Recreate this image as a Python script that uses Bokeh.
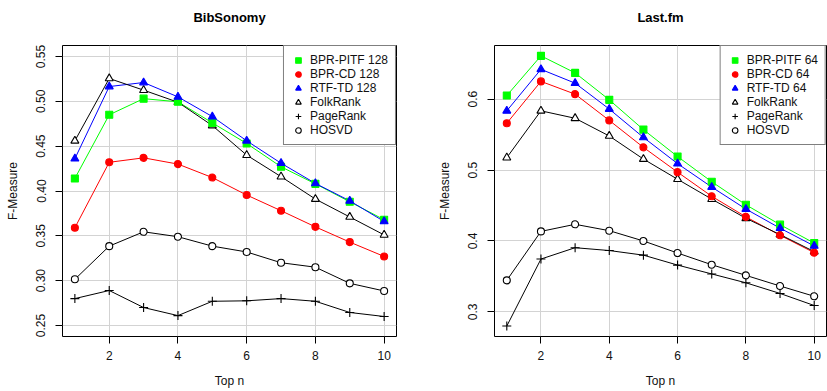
from bokeh.plotting import figure
from bokeh.layouts import row
from bokeh.models import Range1d, FixedTicker, PrintfTickFormatter, Legend, LegendItem
from bokeh.embed import file_html
from bokeh.resources import INLINE

top_n = [1, 2, 3, 4, 5, 6, 7, 8, 9, 10]

# BibSonomy
bib_bpr_pitf = [0.414, 0.485, 0.503, 0.4995, 0.476, 0.453, 0.427, 0.408, 0.388, 0.368]
bib_bpr_cd = [0.359, 0.432, 0.437, 0.430, 0.415, 0.3955, 0.378, 0.360, 0.343, 0.327]
bib_rtf_td = [0.436, 0.5165, 0.521, 0.505, 0.483, 0.456, 0.431, 0.4085, 0.389, 0.366]
bib_folkrank = [0.456, 0.5255, 0.5125, 0.499, 0.473, 0.440, 0.416, 0.391, 0.371, 0.351]
bib_pagerank = [0.280, 0.289, 0.270, 0.261, 0.277, 0.2775, 0.280, 0.277, 0.2645, 0.260]
bib_hosvd = [0.3015, 0.3385, 0.3545, 0.349, 0.3385, 0.332, 0.320, 0.315, 0.297, 0.2885]

# Last.fm
lfm_bpr_pitf = [0.605, 0.661, 0.637, 0.599, 0.557, 0.519, 0.4835, 0.451, 0.423, 0.397]
lfm_bpr_cd = [0.566, 0.625, 0.607, 0.570, 0.532, 0.497, 0.463, 0.434, 0.408, 0.3835]
lfm_rtf_td = [0.5835, 0.642, 0.6225, 0.586, 0.546, 0.509, 0.476, 0.445, 0.418, 0.393]
lfm_folkrank = [0.5175, 0.5835, 0.573, 0.548, 0.5155, 0.487, 0.459, 0.432, 0.409, 0.385]
lfm_pagerank = [0.280, 0.3745, 0.3905, 0.3865, 0.380, 0.366, 0.3535, 0.341, 0.326, 0.309]
lfm_hosvd = [0.3445, 0.4135, 0.4235, 0.4145, 0.400, 0.383, 0.3665, 0.3515, 0.3365, 0.322]

bib_names = ["BPR-PITF 128", "BPR-CD 128", "RTF-TD 128", "FolkRank", "PageRank", "HOSVD"]
lfm_names = ["BPR-PITF 64", "BPR-CD 64", "RTF-TD 64", "FolkRank", "PageRank", "HOSVD"]

bib_yticks = [0.25, 0.30, 0.35, 0.40, 0.45, 0.50, 0.55]
lfm_yticks = [0.3, 0.4, 0.5, 0.6]
xticks = [2, 4, 6, 8, 10]

FONT = "Liberation Sans"
HEIGHT = 391
TOP, BOTTOM = 45, 55

# style per series: (line color, marker, fill, marker size)
STYLES = [
    ("#00ff00", "square", "#00ff00", 7),
    ("#ff0000", "circle", "#ff0000", 7),
    ("#0000ff", "triangle", "#0000ff", 8),
    ("#000000", "triangle", "white", 8),
    ("#000000", "cross", None, 9),
    ("#000000", "circle", "white", 7),
]


def make_plot(title, series, names, yrange, yticks, yfmt, width, bl, br):
    p = figure(width=width, height=HEIGHT, output_backend="svg", toolbar_location=None,
               x_range=Range1d(0.64, 10.36), y_range=Range1d(*yrange),
               min_border_left=bl, min_border_right=br, min_border_top=TOP,
               min_border_bottom=BOTTOM)
    xa = p.below[0]
    ya = p.left[0]
    p.title.text = title
    p.title.align = "center"
    p.title.text_font = FONT
    p.title.text_font_size = "13px"
    p.title.text_font_style = "bold"
    p.title.text_color = "#000000"
    p.title.standoff = 14
    p.title.padding = dict(left=0, right=0, top=0, bottom=14)
    p.outline_line_color = "black"
    p.outline_line_width = 1
    p.outline_line_alpha = 1
    p.background_fill_color = "white"
    p.border_fill_color = "white"

    for ax in (xa, ya):
        ax.axis_line_color = None
        ax.major_tick_in = 0
        ax.major_tick_out = 7
        ax.minor_tick_line_color = None
        ax.major_tick_line_color = "black"
        ax.major_label_text_font = FONT
        ax.major_label_text_font_size = "12px"
        ax.major_label_text_color = "#111111"
        ax.axis_label_text_font = FONT
        ax.axis_label_text_font_size = "12px"
        ax.axis_label_text_font_style = "normal"
        ax.axis_label_text_color = "#111111"
    xa.ticker = FixedTicker(ticks=xticks)
    ya.ticker = FixedTicker(ticks=yticks)
    ya.formatter = PrintfTickFormatter(format=yfmt)
    ya.major_label_orientation = "vertical"
    xa.axis_label = "Top n"
    ya.axis_label = "F-Measure"
    xa.major_label_standoff = 7
    xa.axis_label_standoff = 11
    ya.major_label_standoff = 10
    ya.axis_label_standoff = 14

    p.xgrid.ticker = FixedTicker(ticks=xticks)
    p.ygrid.ticker = FixedTicker(ticks=yticks)
    p.grid.grid_line_color = "#d3d3d3"
    p.grid.grid_line_width = 1

    # lines first
    for ys, (col, mk, fill, sz) in zip(series, STYLES):
        p.line(top_n, ys, line_color=col, line_width=1)

    scat = [None] * len(series)
    order = [3, 4, 5, 0, 1, 2]
    for i in order:
        ys = series[i]
        col, mk, fill, sz = STYLES[i]
        r = p.scatter(top_n, ys, marker=mk, size=sz, line_color=col, line_width=1.1,
                      fill_color=fill)
        scat[i] = r

    items = [LegendItem(label=n, renderers=[r]) for n, r in zip(names, scat)]
    leg = Legend(items=items, location="top_right")
    leg.margin = 0
    leg.padding = 7
    leg.spacing = 0
    leg.label_height = 14
    leg.glyph_height = 14
    leg.glyph_width = 14
    leg.label_standoff = 5
    leg.label_text_font = FONT
    leg.label_text_font_size = "12px"
    leg.label_text_color = "#111111"
    leg.border_line_color = "black"
    leg.border_line_width = 1
    leg.background_fill_color = "white"
    leg.background_fill_alpha = 1
    p.add_layout(leg, "center")
    return p


p1 = make_plot("BibSonomy",
               [bib_bpr_pitf, bib_bpr_cd, bib_rtf_td, bib_folkrank, bib_pagerank, bib_hosvd],
               bib_names, (0.2377, 0.5623), bib_yticks, "%.2f", 413, 62, 17)
p2 = make_plot("Last.fm",
               [lfm_bpr_pitf, lfm_bpr_cd, lfm_rtf_td, lfm_folkrank, lfm_pagerank, lfm_hosvd],
               lfm_names, (0.2653, 0.6756), lfm_yticks, "%.1f", 414, 81, 1)

layout = row(p1, p2)
open("out.html", "w").write(file_html(layout, INLINE))
